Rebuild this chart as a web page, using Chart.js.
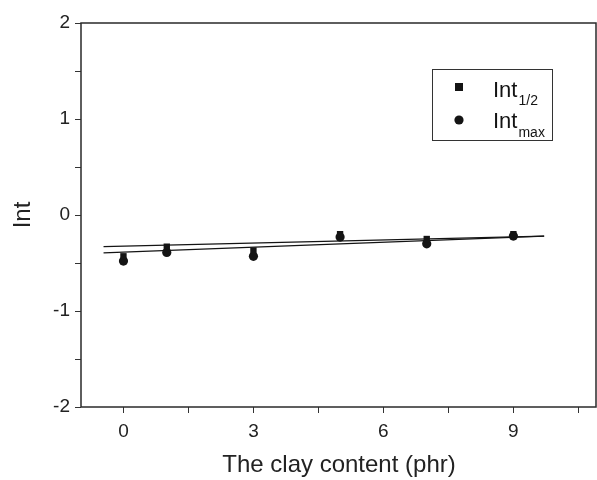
<!DOCTYPE html>
<html>
<head>
<meta charset="utf-8">
<script src="https://cdn.jsdelivr.net/npm/chart.js@4/dist/chart.umd.min.js"></script>
<style>
  html, body { margin: 0; padding: 0; background: #fff; }
  #wrap { position: relative; width: 597px; height: 480px; }
</style>
</head>
<body>
<div id="wrap"><canvas id="c" width="597" height="480"></canvas></div>
<script>
// ---- data ----
const clayContent = [0, 1, 3, 5, 7, 9];
const intHalf = [-0.43, -0.33, -0.37, -0.20, -0.25, -0.20];
const intMax  = [-0.48, -0.39, -0.43, -0.23, -0.30, -0.22];
// fitted straight lines (end points)
const fitX = [-0.46, 9.71];
const fitHalfY = [-0.33, -0.22];
const fitMaxY  = [-0.394, -0.22];
// axis ticks
const xTickValues = [0, 1.5, 3, 4.5, 6, 7.5, 9, 10.5];
const xTickLabels = { 0: '0', 3: '3', 6: '6', 9: '9' };
const yTickValues = [-2, -1.5, -1, -0.5, 0, 0.5, 1, 1.5, 2];
const yTickLabels = { '-2': '-2', '-1': '-1', '0': '0', '1': '1', '2': '2' };
const xTitle = 'The clay content (phr)';
const yTitle = 'Int';
const legendLabels = [['Int', '1/2'], ['Int', 'max']];

const FONT = '"Liberation Sans", Arial, sans-serif';
const INK = '#141414';

const toPts = (xs, ys) => xs.map((x, i) => ({ x: x, y: ys[i] }));

const framePlugin = {
  id: 'frame',
  afterDraw(chart) {
    const { ctx, chartArea: a } = chart;
    ctx.save();
    ctx.strokeStyle = '#2a2a2a';
    ctx.lineWidth = 1.5;
    ctx.strokeRect(a.left, a.top, a.right - a.left - 1, a.bottom - a.top);
    // legend box
    ctx.lineWidth = 1;
    ctx.strokeStyle = '#333';
    ctx.fillStyle = '#fff';
    ctx.fillRect(432, 69, 121, 72);
    ctx.strokeRect(432.5, 69.5, 120, 71);
    ctx.fillStyle = INK;
    ctx.fillRect(455, 83, 8, 8);
    ctx.beginPath();
    ctx.arc(459, 120, 4.6, 0, Math.PI * 2);
    ctx.fill();
    ctx.textBaseline = 'alphabetic';
    ctx.textAlign = 'left';
    const rows = [[97, 105], [128, 137]];
    legendLabels.forEach((lab, i) => {
      ctx.font = '22px ' + FONT;
      ctx.fillText(lab[0], 493, rows[i][0]);
      const w = ctx.measureText(lab[0]).width;
      ctx.font = '14px ' + FONT;
      ctx.fillText(lab[1], 493 + w + 1, rows[i][1]);
    });
    ctx.restore();
  }
};

new Chart(document.getElementById('c'), {
  type: 'scatter',
  data: {
    datasets: [
      { label: 'Int1/2', data: toPts(clayContent, intHalf), pointStyle: 'rect',
        pointRadius: 4.5, backgroundColor: INK, borderColor: INK, borderWidth: 0 },
      { label: 'Intmax', data: toPts(clayContent, intMax), pointStyle: 'circle',
        pointRadius: 4.6, backgroundColor: INK, borderColor: INK, borderWidth: 0 },
      { type: 'line', label: 'fit1/2', data: toPts(fitX, fitHalfY), showLine: true,
        pointRadius: 0, borderColor: INK, borderWidth: 1.2, fill: false },
      { type: 'line', label: 'fitmax', data: toPts(fitX, fitMaxY), showLine: true,
        pointRadius: 0, borderColor: INK, borderWidth: 1.2, fill: false }
    ]
  },
  options: {
    responsive: false,
    animation: false,
    devicePixelRatio: 1,
    layout: { autoPadding: false, padding: { top: 23, right: 0, left: 0, bottom: 0 } },
    plugins: { legend: { display: false }, tooltip: { enabled: false } },
    scales: {
      x: {
        type: 'linear', min: -0.98, max: 10.93,
        afterBuildTicks: s => { s.ticks = xTickValues.map(v => ({ value: v })); },
        afterFit: s => { s.height = 73; s.paddingLeft = 0; s.paddingRight = 0; },
        grid: { drawOnChartArea: false, tickLength: 6, color: '#333', lineWidth: 1 },
        border: { display: false },
        ticks: { autoSkip: false, maxRotation: 0, padding: 7, color: '#222',
          font: { family: FONT, size: 19 },
          callback: v => (xTickLabels[v] !== undefined ? xTickLabels[v] : '') },
        title: { display: true, text: xTitle, color: '#222',
          font: { family: FONT, size: 24 }, padding: { top: 0, bottom: 0 } }
      },
      y: {
        type: 'linear', min: -2, max: 2,
        afterBuildTicks: s => { s.ticks = yTickValues.map(v => ({ value: v })); },
        afterFit: s => { s.width = 81; },
        grid: { drawOnChartArea: false, tickLength: 6, color: '#333', lineWidth: 1 },
        border: { display: false },
        ticks: { autoSkip: false, padding: 5, color: '#222',
          font: { family: FONT, size: 19 },
          callback: v => (yTickLabels[String(v)] !== undefined ? yTickLabels[String(v)] : '') },
        title: { display: true, text: yTitle, color: '#222',
          font: { family: FONT, size: 24 }, padding: { top: 9, bottom: 0 } }
      }
    }
  },
  plugins: [framePlugin]
});
</script>
</body>
</html>
